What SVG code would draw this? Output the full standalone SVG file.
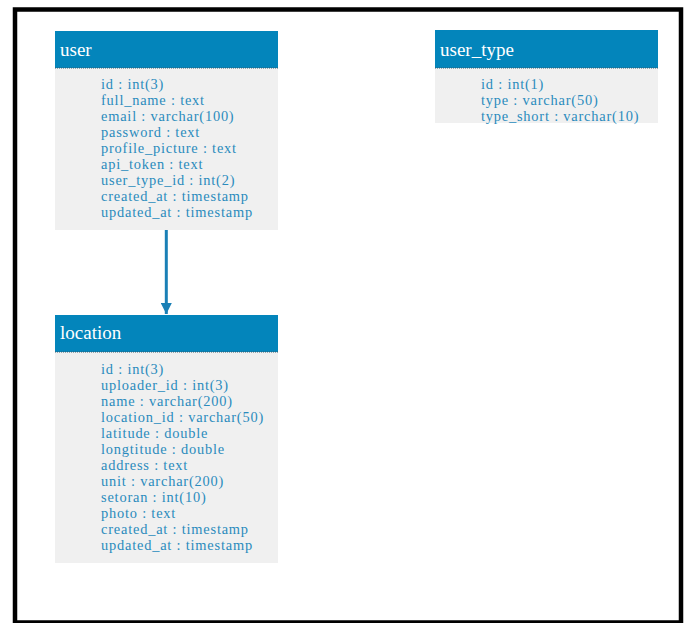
<svg xmlns="http://www.w3.org/2000/svg" width="690" height="623" viewBox="0 0 690 623">
<style>
.hdr{fill:#0385bb}
.body{fill:#f0f0f0}
.sep{stroke:#3a5a6a;stroke-width:1;stroke-dasharray:1 1}
.title{font-family:'Liberation Serif','Times New Roman',serif;font-size:19px;fill:#ffffff}
.fld{font-family:'Liberation Serif','Times New Roman',serif;font-size:14.4px;letter-spacing:0.8px;fill:#2a8bbd}
.conn{stroke:#1a80b6;stroke-width:3;fill:none}
</style>
<defs>
<marker id="arr" viewBox="0 0 10 10" refX="10" refY="5" markerWidth="3.8" markerHeight="3.8" markerUnits="strokeWidth" orient="auto">
<path d="M0,0 L10,5 L0,10 Z" fill="#1a80b6"/>
</marker>
</defs>
<rect x="0" y="0" width="690" height="623" fill="#ffffff"/>
<rect x="15" y="9.5" width="666" height="613" fill="none" stroke="#000" stroke-width="4.5"/>
<g id="connectors">
<line class="conn" x1="166.3" y1="230" x2="166.3" y2="314" marker-end="url(#arr)"/>
</g>
<g id="user">
<rect class="hdr" x="55" y="31" width="223" height="37"/>
<rect class="body" x="55" y="68" width="223" height="162"/>
<line class="sep" x1="55" y1="68" x2="278" y2="68"/>
<text class="title" x="60" y="56">user</text>
<text class="fld" x="101" y="89">id : int(3)</text>
<text class="fld" x="101" y="105">full_name : text</text>
<text class="fld" x="101" y="121">email : varchar(100)</text>
<text class="fld" x="101" y="137">password : text</text>
<text class="fld" x="101" y="153">profile_picture : text</text>
<text class="fld" x="101" y="169">api_token : text</text>
<text class="fld" x="101" y="185">user_type_id : int(2)</text>
<text class="fld" x="101" y="201">created_at : timestamp</text>
<text class="fld" x="101" y="217">updated_at : timestamp</text>
</g>
<g id="user_type">
<rect class="hdr" x="435" y="30" width="223" height="38"/>
<rect class="body" x="435" y="68" width="223" height="55"/>
<line class="sep" x1="435" y1="68" x2="658" y2="68"/>
<text class="title" x="440" y="56">user_type</text>
<text class="fld" x="481" y="89">id : int(1)</text>
<text class="fld" x="481" y="105">type : varchar(50)</text>
<text class="fld" x="481" y="121">type_short : varchar(10)</text>
</g>
<g id="location">
<rect class="hdr" x="55" y="315" width="223" height="37"/>
<rect class="body" x="55" y="352" width="223" height="211"/>
<line class="sep" x1="55" y1="352" x2="278" y2="352"/>
<text class="title" x="60" y="339">location</text>
<text class="fld" x="101" y="374">id : int(3)</text>
<text class="fld" x="101" y="390">uploader_id : int(3)</text>
<text class="fld" x="101" y="406">name : varchar(200)</text>
<text class="fld" x="101" y="422">location_id : varchar(50)</text>
<text class="fld" x="101" y="438">latitude : double</text>
<text class="fld" x="101" y="454">longtitude : double</text>
<text class="fld" x="101" y="470">address : text</text>
<text class="fld" x="101" y="486">unit : varchar(200)</text>
<text class="fld" x="101" y="502">setoran : int(10)</text>
<text class="fld" x="101" y="518">photo : text</text>
<text class="fld" x="101" y="534">created_at : timestamp</text>
<text class="fld" x="101" y="550">updated_at : timestamp</text>
</g>
</svg>
